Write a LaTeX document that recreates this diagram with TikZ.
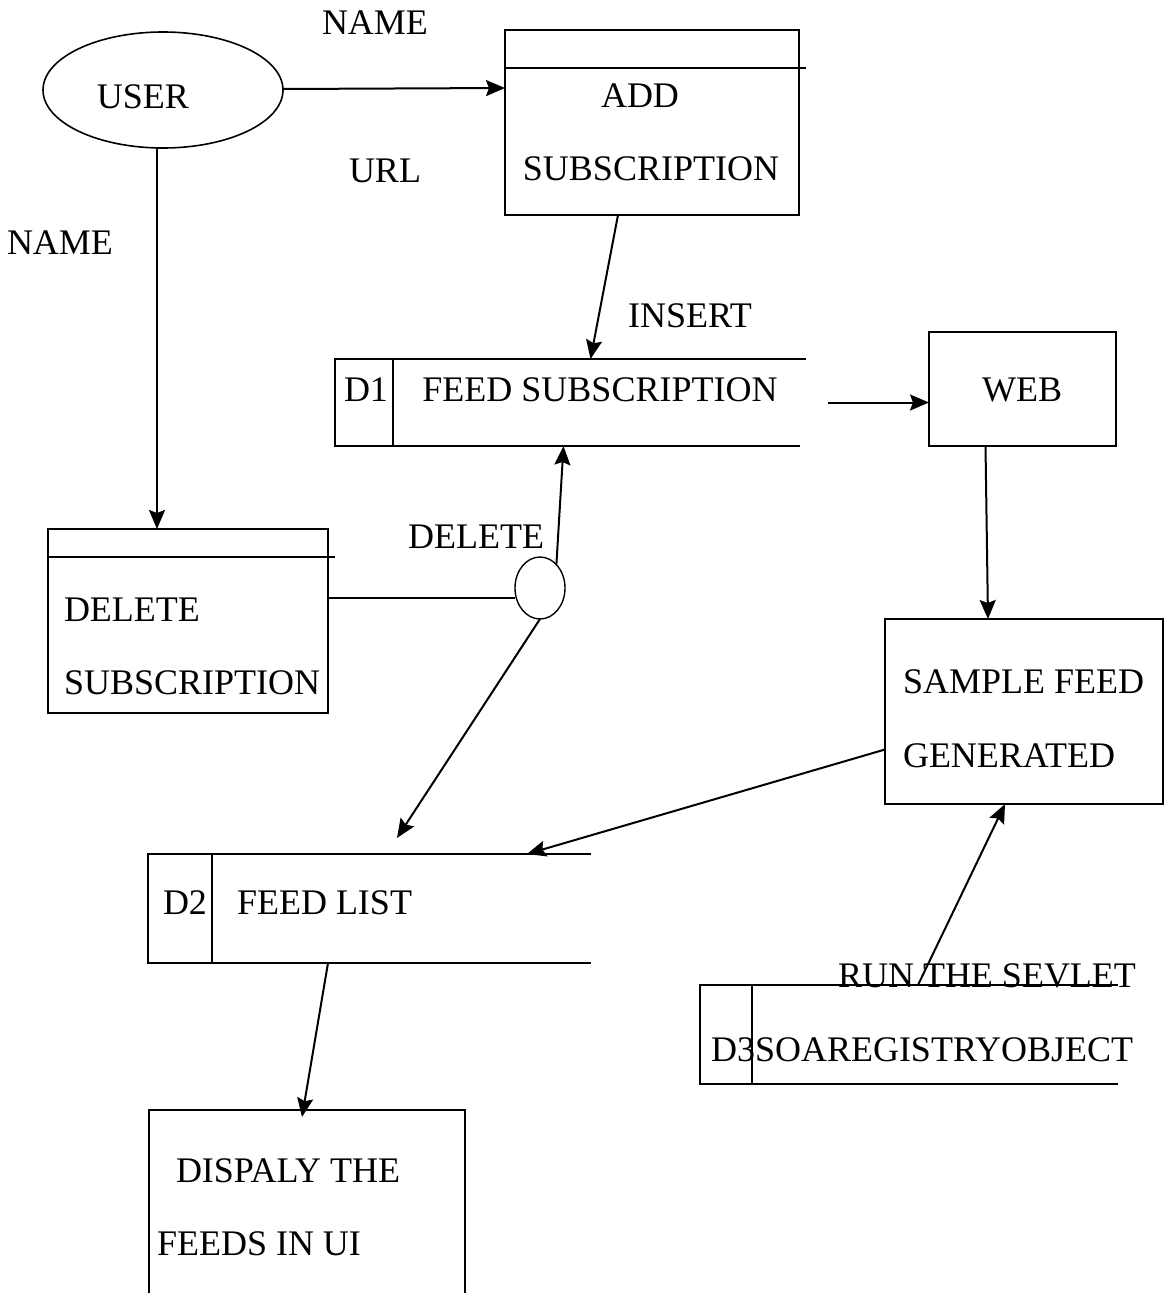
\documentclass[tikz,border=0pt]{standalone}
\usepackage{fontspec}
\setmainfont{Liberation Serif}
\usetikzlibrary{arrows.meta,shapes.geometric}
\begin{document}
\begin{tikzpicture}[x=1pt,y=-1pt,
  every node/.style={font=\fontsize{36}{43}\selectfont, inner sep=0pt, outer sep=0pt},
  lbl/.style={anchor=base},
  lblw/.style={anchor=base west},
  procbox/.style={draw, line width=1.8pt, rectangle, anchor=north west},
  storearea/.style={rectangle, anchor=north west},
  edge/.style={line width=1.8pt},
  flow/.style={line width=2pt, -{Stealth[length=19pt,width=16pt,inset=3pt]}}
]
\useasboundingbox (0,0) rectangle (1171,1293);
\clip (0,0) rectangle (1171,1293);

% ---- external entity ----
\node[ellipse, draw, line width=1.6pt, minimum width=240pt, minimum height=116pt] (user) at (163,90) {};
\node[lbl] (usertxt) at (143,108) {USER};

% ---- processes ----
\node[procbox, minimum width=294pt, minimum height=185pt] (add) at (505,30) {};
\draw[edge] ([yshift=-38pt]add.north west) -- ++(301,0);
\node[lbl] (addtxt1) at (640,107) {ADD};
\node[lbl] (addtxt2) at (651,180) {SUBSCRIPTION};

\node[procbox, minimum width=280pt, minimum height=184pt] (del) at (48,529) {};
\draw[edge] ([yshift=-28pt]del.north west) -- ++(287,0);
\node[lblw] (deltxt1) at (64,621) {DELETE};
\node[lblw] (deltxt2) at (64,694) {SUBSCRIPTION};

\node[procbox, minimum width=187pt, minimum height=114pt] (web) at (929,332) {};
\node[lbl] (webtxt) at (1022,401) {WEB};

\node[procbox, minimum width=278pt, minimum height=185pt] (sample) at (885,619) {};
\node[lblw] (sampletxt1) at (903,693) {SAMPLE FEED};
\node[lblw] (sampletxt2) at (903,767) {GENERATED};

\node[procbox, minimum width=316pt, minimum height=230pt] (disp) at (149,1110) {};
\node[lblw] (disptxt1) at (176,1182) {DISPALY THE};
\node[lblw] (disptxt2) at (157,1255) {FEEDS IN UI};

% ---- data stores (open on the right) ----
\node[storearea, minimum width=471pt, minimum height=87pt] (d1) at (335,359) {};
\draw[edge] (d1.north east) -- (d1.north west) -- (d1.south west) -- ([xshift=-6pt]d1.south east);
\draw[edge] ([xshift=58pt]d1.north west) -- ([xshift=58pt]d1.south west);
\node[lbl] (d1id) at (366,401) {D1};
\node[lbl] (d1txt) at (600,401) {FEED SUBSCRIPTION};

\node[storearea, minimum width=443pt, minimum height=109pt] (d2) at (148,854) {};
\draw[edge] (d2.north east) -- (d2.north west) -- (d2.south west) -- (d2.south east);
\draw[edge] ([xshift=64pt]d2.north west) -- ([xshift=64pt]d2.south west);
\node[lbl] (d2id) at (185,914) {D2};
\node[lblw] (d2txt) at (237,914) {FEED LIST};

\node[storearea, minimum width=418pt, minimum height=99pt] (d3) at (700,985) {};
\draw[edge] (d3.north east) -- (d3.north west) -- (d3.south west) -- (d3.south east);
\draw[edge] ([xshift=52pt]d3.north west) -- ([xshift=52pt]d3.south west);
\node[lblw] (d3id) at (711,1061) {D3};
\node[lblw] (d3txt) at (755,1061) {SOAREGISTRYOBJECT};

% ---- connector junction ----
\node[ellipse, draw, line width=1.4pt, minimum width=50pt, minimum height=62pt] (dc) at (540,588) {};

% ---- flow labels ----
\node[lbl] (lname1) at (375,34) {NAME};
\node[lbl] (lurl) at (385,182) {URL};
\node[lbl] (lname2) at (60,254) {NAME};
\node[lbl] (linsert) at (690,327) {INSERT};
\node[lbl] (ldelete) at (476,548) {DELETE};
\node[lblw] (lrun) at (838,987) {RUN THE SEVLET};

% ---- flows ----
\draw[flow] ([yshift=1pt]user.east) -- ([yshift=2pt]user.east -| add.west);
\draw[flow] ([xshift=-6pt]user.south) -- ([xshift=-6pt]user.south |- del.north);
\draw[flow] ([xshift=-34pt]add.south) -- ([xshift=20pt]d1.north);
\draw[flow] ([xshift=22pt]d1.east) -- (d1.east -| web.west);
\draw[flow] ([xshift=-37pt]web.south) -- ([xshift=-36pt]sample.north);
\draw[flow] ([yshift=-38pt]sample.west) -- ([xshift=379pt]d2.north west);
\draw[flow] ([xshift=218pt]d3.north west) -- ([xshift=-19pt]sample.south);
\coordinate (dcin) at ([yshift=-10pt]dc.west);
\draw[edge] (del.east |- dcin) -- (dcin);
\draw[flow] (dc.55) -- ([xshift=-7pt]d1.south);
\draw[flow] (dc.south) -- ([xshift=249pt,yshift=16pt]d2.north west);
\draw[flow] ([xshift=180pt]d2.south west) -- ([xshift=-5pt,yshift=-7pt]disp.north);
\end{tikzpicture}
\end{document}
